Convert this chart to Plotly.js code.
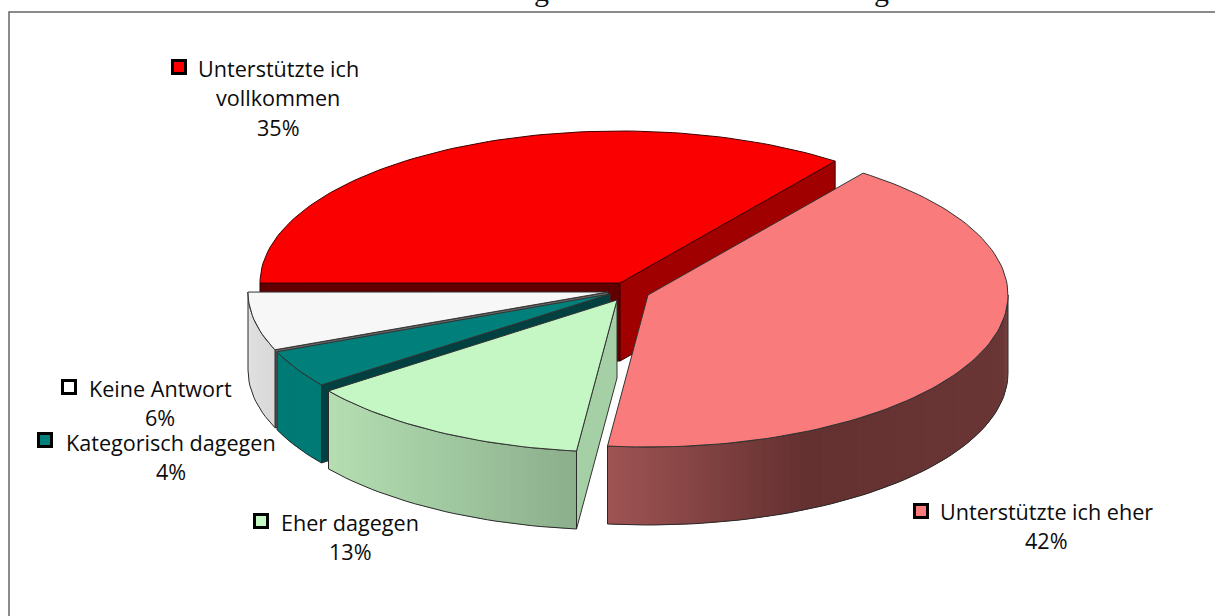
<!DOCTYPE html>
<html><head><meta charset="utf-8">
<script src="https://cdn.plot.ly/plotly-3.0.1.min.js"></script>
<style>html,body{margin:0;padding:0;background:#fff;overflow:hidden}#c{width:1215px;height:616px}</style>
</head><body><div id="c"></div>
<script>
var categories = ["Unterstützte ich vollkommen","Unterstützte ich eher","Eher dagegen","Kategorisch dagegen","Keine Antwort"];
var shares = [35.2,41.6,13.0,4.0,6.2];
var shownPercent = ["35%","42%","13%","4%","6%"];

var W=1215,H=616,RX=360,RY=152,DEPTH=78,START=53.3,STEP=0.6;
var centres=[[620,283],[648,295],[617,300],[610,294],[608,292]];
var tops=["#fa0000","#f97b7b","#c4f7c4","#007f7b","#f7f7f7"];
var cutFaces=["#a00000",null,"#a5cfa5","#004040","#666666"];
var sideFrom=[null,[160,84,84],[182,222,178],[0,122,117],[224,224,224]];
var sideMid=[null,[100,48,48],[160,200,160],[0,122,117],[220,220,220]];
var sideTo=[null,[106,54,54],[140,174,140],[0,122,117],[216,216,216]];
var rear="#600000";

var traces=[];
function pt(c,t,dy){var r=t*Math.PI/180;return [c[0]+RX*Math.cos(r),c[1]-RY*Math.sin(r)+(dy||0)];}
function poly(pts,fill,line,w){
  var xs=pts.map(function(p){return p[0]}),ys=pts.map(function(p){return p[1]});
  xs.push(xs[0]);ys.push(ys[0]);
  traces.push({type:'scatter',mode:'lines',x:xs,y:ys,fill:fill?'toself':'none',fillcolor:fill||undefined,
    line:{color:line||'rgba(0,0,0,0)',width:line?(w||1):0},hoverinfo:'skip',showlegend:false});
}
function arc(c,a,b,dy){var n=Math.max(2,Math.ceil(Math.abs(a-b)/1.5)),o=[];
  for(var i=0;i<=n;i++)o.push(pt(c,a+(b-a)*i/n,dy));return o;}
function mix(p,q,f){return p.map(function(v,i){return Math.round(v+(q[i]-v)*f)});}
function rgb(a){return 'rgb('+a.join(',')+')';}

var ang=[[START+shares[0]*3.6,START],[START,START-shares[1]*3.6]];
for(var k=2;k<shares.length;k++){ang[k]=[ang[k-1][1],ang[k-1][1]-shares[k]*3.6];}

(function(){var c=centres[0],a=ang[0];
  var p0=pt(c,a[1]),p1=pt(c,a[0]);
  poly([c,p1,[p1[0],p1[1]+DEPTH],[c[0],c[1]+DEPTH]],rear,'#300000',1);
  poly([c,p0,[p0[0],p0[1]+DEPTH],[c[0],c[1]+DEPTH]],cutFaces[0],'#300000',1);
  poly([c].concat(arc(c,a[0],a[1])),tops[0],'#400000',1);
})();

[4,3,2,1].forEach(function(i){
  var c=centres[i],a=ang[i];
  if(cutFaces[i]){var e=pt(c,a[0]);
    poly([c,e,[e[0],e[1]+DEPTH],[c[0],c[1]+DEPTH]],cutFaces[i],'#333333',1);}
  var hi=Math.min(a[0],0),lo=Math.max(a[1],-180),n=Math.ceil((hi-lo)/STEP);
  var x0=pt(c,lo)[0],x1=pt(c,hi)[0],span=Math.abs(x1-x0)||1;
  for(var j=0;j<n;j++){
    var t1=lo+(hi-lo)*j/n,t2=lo+(hi-lo)*Math.min(n,j+2)/n;
    var mx=pt(c,(t1+t2)/2)[0];
    var f=(mx-Math.min(x0,x1))/span;
    var col=f<0.5?mix(sideFrom[i],sideMid[i],f*2):mix(sideMid[i],sideTo[i],(f-0.5)*2);
    poly(arc(c,t1,t2,0).concat(arc(c,t2,t1,DEPTH)),rgb(col));
  }
  poly(arc(c,hi,lo,0).concat(arc(c,lo,hi,DEPTH)),null,'#2a2a2a',1);
  poly([c].concat(arc(c,a[0],a[1])),tops[i],'#333333',1);
});

var keyX=[179,921,261,45,69],keyY=[67,511,521,440,387];
var keyCol=["#fa0000","#f97b7b","#c4f7c4","#007f7b","#ffffff"];
traces.push({type:'scatter',mode:'markers',x:keyX,y:keyY,hoverinfo:'skip',showlegend:false,
  marker:{symbol:'square',size:13,color:keyCol,line:{color:'#000',width:3}}});

var font={family:'"Open Sans",sans-serif',size:21.6,color:'#0c0c0c'};
var anns=[
 {x:278,y:68,text:'Unterstützte ich'},{x:278,y:97,text:'vollkommen'},{x:278,y:127,text:shownPercent[0]},
 {x:1046,y:511,text:'Unterstützte ich eher'},{x:1046,y:540,text:shownPercent[1]},
 {x:350,y:522,text:'Eher dagegen'},{x:350,y:551,text:shownPercent[2]},
 {x:170.5,y:442,text:'Kategorisch dagegen'},{x:170.5,y:471,text:shownPercent[3]},
 {x:160,y:388,text:'Keine Antwort'},{x:160,y:417,text:shownPercent[4]}
].map(function(a){return {x:a.x,y:a.y,text:a.text,xref:'x',yref:'y',showarrow:false,font:font,xanchor:'center',yanchor:'middle'};});
// the title of the source picture is cut off by the top edge: only two descenders remain
[541,881].forEach(function(x){
  anns.push({x:x,y:9,text:'g',xref:'x',yref:'y',showarrow:false,xanchor:'center',yanchor:'bottom',
    font:{family:'"Liberation Serif",serif',size:30,color:'#111'}});
});

Plotly.newPlot('c',traces,{
  width:W,height:H,margin:{l:0,r:0,t:0,b:0},paper_bgcolor:'#fff',plot_bgcolor:'#fff',showlegend:false,
  xaxis:{range:[0,W],visible:false,fixedrange:true},
  yaxis:{range:[H,0],visible:false,fixedrange:true},
  annotations:anns,
  shapes:[{type:'rect',xref:'x',yref:'y',x0:9,y0:12,x1:1300,y1:700,line:{color:'#666',width:1.5},fillcolor:'rgba(0,0,0,0)',layer:'below'}]
},{displayModeBar:false,staticPlot:true});
</script></body></html>
